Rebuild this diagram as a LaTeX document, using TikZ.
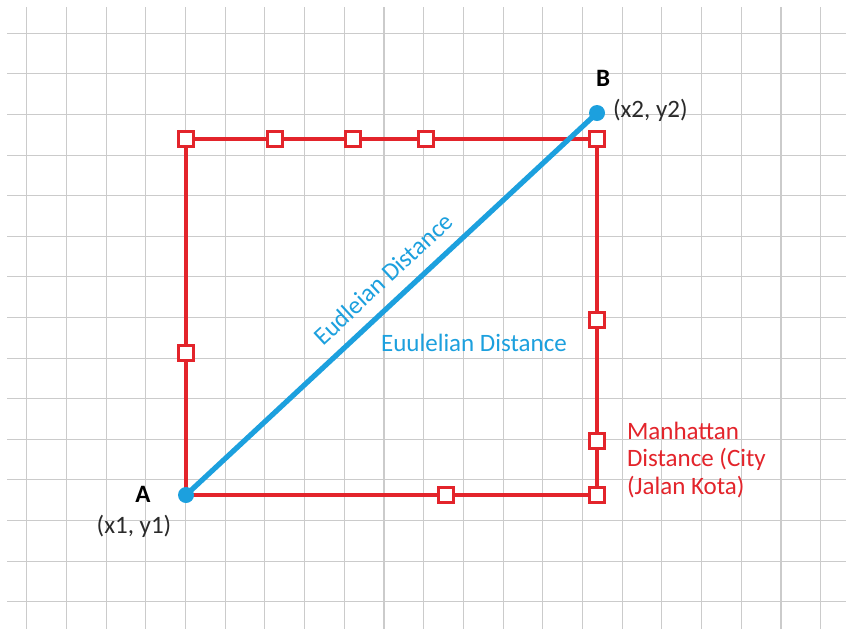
\documentclass[tikz,border=0pt]{standalone}
\usepackage{fontspec}
\setmainfont{Carlito}
\usetikzlibrary{positioning}
\definecolor{mhred}{HTML}{E3242B}
\definecolor{eublue}{HTML}{1CA0DE}
\definecolor{gridgray}{HTML}{CBCBCB}
\definecolor{lblgray}{HTML}{2A2A2A}

\begin{document}
\begin{tikzpicture}[
  x=0.5pt, y=-0.5pt,
  font=\fontsize{12.5}{13.75}\selectfont,
  gridline/.style={draw=gridgray, line width=0.55pt},
  mh_line/.style ={draw=mhred, line width=2.1pt},
  eu_line/.style ={draw=eublue, line width=2.6pt},
  sq_mark/.style ={draw=mhred, line width=1.7pt, fill=white, minimum size=7.4pt, inner sep=0pt},
  pt_dot/.style  ={circle, fill=eublue, minimum size=8pt, inner sep=0pt},
  pt_name/.style ={font=\bfseries\fontsize{12.5}{13.75}\selectfont, text=black},
  pt_xy/.style   ={text=lblgray},
]
  \useasboundingbox (0,0) rectangle (846,629);
  \fill[white] (0,0) rectangle (846,629);

  % background grid
  \foreach \i in {0,...,20}
    \draw[gridline] ({26.7+39.7*\i},7) -- ({26.7+39.7*\i},629);
  \foreach \j in {0,...,14}
    \draw[gridline] (7,{33.3+40.6*\j}) -- (846,{33.3+40.6*\j});

  \coordinate (A)  at (186,495);
  \coordinate (B)  at (597,113);
  \coordinate (tl) at (186,139);
  \coordinate (tr) at (597,139);
  \coordinate (br) at (597,495);

  % manhattan path
  \draw[mh_line] (A) -- (tl) -- (tr) -- (br) -- cycle;
  \foreach \nm/\px/\py in {m1/186/139, m2/275/139, m3/353/139, m4/426/139, m5/597/139,
                           m6/186/353, m7/597/320, m8/597/441, m9/597/495, m10/446/495}
    \node[sq_mark] (\nm) at (\px,\py) {};

  % euclidean path
  \draw[eu_line] (A) -- node[sloped, above=3pt, pos=0.52, text=eublue] {Eudleian Distance} (B);
  \node[pt_dot] (dotA) at (A) {};
  \node[pt_dot] (dotB) at (B) {};

  \node[pt_name] (nameA) at (143,494) {A};
  \node[pt_xy]   (xyA)   at (134,526) {(x1, y1)};
  \node[pt_name] (nameB) at (603,78)  {B};
  \node[pt_xy, anchor=west] (xyB) at (606,110) {(x2, y2)};

  \node[text=eublue] (eulbl) at (474,343) {Euulelian Distance};
  \node[text=mhred, anchor=west, align=left] (mhlbl) at (620,460) {Manhattan\\Distance (City\\(Jalan Kota)};
\end{tikzpicture}
\end{document}
